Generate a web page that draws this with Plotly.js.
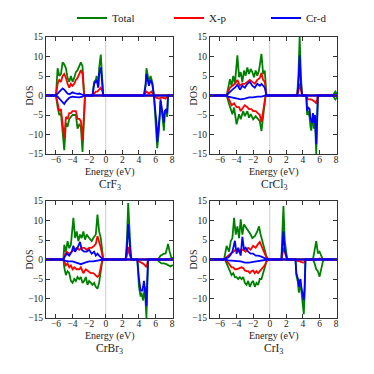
<!DOCTYPE html>
<html lang="en">
<head>
    <meta charset="UTF-8">
    <title>CrX3 DOS</title>
    <script src="https://cdn.plot.ly/plotly-3.0.1.min.js"></script>
    <style>
        body { margin: 0; padding: 0; background: #fff; }
        #chart { width: 374px; height: 374px; }
    </style>
</head>
<body>
    <div id="chart"></div>
    <script>
        // [energy (eV), DOS] pairs, spin up > 0, spin down < 0
        const materials = ['CrF<sub>3</sub>', 'CrCl<sub>3</sub>', 'CrBr<sub>3</sub>', 'CrI<sub>3</sub>'];
        const seriesNames = ['Total', 'X-p', 'Cr-d'];
        const seriesColors = ['#008000', '#ff0000', '#0000ff'];

        // CrF3
        const crf3TotalUp = [[-7.5,0],[-6.0,0],[-5.8,7],[-5.6,5],[-5.4,5.5],[-5.2,8.5],[-5.0,8],[-4.8,7],[-4.6,4.5],[-4.4,3.5],[-4.2,5],[-4.0,3.5],[-3.8,4.5],[-3.6,6],[-3.4,6.5],[-3.2,7.5],[-3.0,8.5],[-2.8,7.5],[-2.6,0],[-1.6,0],[-1.4,3.5],[-1.2,4],[-1.1,5],[-0.9,2.5],[-0.8,7],[-0.6,10.5],[-0.4,4],[-0.3,0],[4.6,0],[4.8,3],[4.9,7],[5.1,4.5],[5.2,3.5],[5.4,5],[5.6,3.5],[5.8,0],[8.5,0]];
        const crf3TotalDn = [[-7.5,0],[-6.0,0],[-5.8,-3],[-5.6,-5],[-5.4,-4.5],[-5.2,-9],[-5.0,-14],[-4.8,-7],[-4.6,-8],[-4.4,-6],[-4.2,-5.5],[-4.0,-5],[-3.8,-5],[-3.6,-5],[-3.4,-8.5],[-3.2,-7.5],[-3.0,-8],[-2.8,-14.5],[-2.6,-5],[-2.5,0],[5.8,0],[5.9,-3],[6.1,-8],[6.2,-13.5],[6.4,-9],[6.5,-6],[6.6,-1.5],[6.8,-5],[7.0,-9],[7.1,-5],[7.3,-4],[7.4,-5.5],[7.5,0],[8.5,0]];
        const crf3XpUp = [[-7.5,0],[-6.0,0],[-5.8,3],[-5.6,4],[-5.4,3.5],[-5.2,5],[-5.0,5.5],[-4.8,4.5],[-4.6,3],[-4.4,2],[-4.2,3],[-4.0,2.5],[-3.8,3],[-3.6,4],[-3.4,4.5],[-3.2,5.5],[-3.0,6.5],[-2.8,5.5],[-2.6,0],[-1.6,0],[-1.4,0.5],[-1.2,1],[-1.0,1],[-0.8,1.5],[-0.6,2],[-0.4,1],[-0.3,0],[4.6,0],[4.9,1],[5.2,0.5],[5.5,1],[5.8,0],[8.5,0]];
        const crf3XpDn = [[-7.5,0],[-6.0,0],[-5.8,-2],[-5.6,-4],[-5.4,-3.5],[-5.2,-7.5],[-5.0,-11],[-4.8,-5.5],[-4.6,-6],[-4.4,-4.5],[-4.2,-4.5],[-4.0,-4],[-3.8,-4],[-3.6,-4],[-3.4,-6],[-3.2,-6],[-3.0,-6.5],[-2.8,-11.5],[-2.6,-4],[-2.5,0],[5.8,0],[6.0,-0.5],[6.4,-0.8],[6.8,-0.5],[7.2,-0.8],[7.5,0],[8.5,0]];
        const crf3CrdUp = [[-7.5,0],[-6.0,0],[-5.8,0.5],[-5.6,1],[-5.4,1.5],[-5.2,1.8],[-5.0,1.5],[-4.8,1],[-4.6,0.5],[-4.4,0.3],[-4.2,0.5],[-4.0,0.8],[-3.8,0.6],[-3.6,0.5],[-3.4,0.4],[-3.2,0.5],[-3.0,0.4],[-2.8,0.2],[-2.6,0],[-1.6,0],[-1.4,3],[-1.2,3.5],[-1.1,4],[-0.9,2],[-0.8,5.5],[-0.6,7.2],[-0.4,3],[-0.3,0],[4.6,0],[4.8,2.5],[4.9,5.5],[5.1,3.5],[5.2,2.5],[5.4,4],[5.6,3],[5.8,0],[8.5,0]];
        const crf3CrdDn = [[-7.5,0],[-6.0,0],[-5.8,-0.3],[-5.6,-0.8],[-5.4,-1.2],[-5.2,-1.8],[-5.0,-2.2],[-4.8,-1.5],[-4.6,-1],[-4.4,-0.6],[-4.2,-0.4],[-4.0,-0.3],[-3.6,-0.4],[-3.2,-0.5],[-2.8,-0.3],[-2.6,0],[5.8,0],[5.9,-2],[6.1,-7],[6.2,-12],[6.4,-8],[6.5,-5],[6.6,-1],[6.8,-4.5],[7.0,-7],[7.1,-4],[7.3,-3.5],[7.4,-4.5],[7.5,0],[8.5,0]];

        // CrCl3
        const crcl3TotalUp = [[-7.5,0],[-5.2,0],[-5.0,2],[-4.8,4.2],[-4.6,2.5],[-4.4,5],[-4.2,3],[-3.9,10.3],[-3.7,4.7],[-3.5,6],[-3.3,3.4],[-3.1,6.4],[-2.9,5.1],[-2.7,7.2],[-2.5,5.5],[-2.3,6.8],[-2.1,6],[-1.9,4.7],[-1.7,6.4],[-1.5,5.1],[-1.3,6.4],[-1.0,10.7],[-0.8,5.5],[-0.6,6.4],[-0.4,0],[3.3,0],[3.45,5],[3.6,15],[3.75,5],[3.9,0],[7.6,0],[7.8,0.5],[7.9,1],[8.1,0.5],[8.5,0]];
        const crcl3TotalDn = [[-7.5,0],[-5.2,0],[-4.9,-2.2],[-4.7,-3.5],[-4.5,-4.8],[-4.3,-3.1],[-4.0,-7.4],[-3.7,-4.8],[-3.5,-6.1],[-3.2,-4],[-3.0,-5.3],[-2.7,-4],[-2.5,-5.7],[-2.3,-4.8],[-2.0,-6.1],[-1.7,-5.3],[-1.4,-6.1],[-1.2,-6.6],[-1.0,-9.1],[-0.8,-5.3],[-0.6,-3.1],[-0.5,0],[4.4,0],[4.5,-5],[4.6,-4],[4.8,-5.5],[4.9,-8],[5.0,-9],[5.1,-6],[5.2,-5.5],[5.3,-8.5],[5.45,-6.5],[5.6,-15],[5.8,0],[7.6,0],[7.9,-1],[8.1,-0.5],[8.5,0]];
        const crcl3XpUp = [[-7.5,0],[-5.2,0],[-5.0,1],[-4.8,2],[-4.5,2.5],[-4.2,3],[-3.9,4],[-3.6,2.5],[-3.3,3],[-3.0,3],[-2.7,3.5],[-2.4,4],[-2.1,3.5],[-1.8,3],[-1.5,4],[-1.2,4.5],[-1.0,5.8],[-0.8,4],[-0.6,3.5],[-0.4,0],[3.3,0],[3.45,1],[3.6,3],[3.75,1],[3.9,0],[8.5,0]];
        const crcl3XpDn = [[-7.5,0],[-5.2,0],[-5.0,-0.5],[-4.8,-1.5],[-4.6,-2.5],[-4.3,-2],[-4.0,-3],[-3.7,-3],[-3.5,-4],[-3.2,-3],[-3.0,-2.5],[-2.7,-3],[-2.5,-3.5],[-2.2,-3.5],[-2.0,-4],[-1.7,-4],[-1.4,-4.5],[-1.2,-5],[-1.0,-6.8],[-0.8,-4],[-0.6,-2],[-0.5,0],[4.4,0],[4.6,-1],[5.0,-1],[5.4,-1.5],[5.6,-2],[5.8,0],[8.5,0]];
        const crcl3CrdUp = [[-7.5,0],[-5.2,0],[-5.0,0.5],[-4.8,1],[-4.5,1.5],[-4.2,2],[-3.9,2.8],[-3.6,1.5],[-3.3,2.5],[-3.0,2],[-2.7,3],[-2.4,3.5],[-2.1,2.5],[-1.8,2],[-1.5,3],[-1.2,2.5],[-1.0,3],[-0.8,2.5],[-0.6,2],[-0.4,0],[3.3,0],[3.45,3],[3.6,10.3],[3.75,3],[3.9,0],[8.5,0]];
        const crcl3CrdDn = [[-7.5,0],[-5.2,0],[-5.0,-0.3],[-4.5,-0.5],[-4.0,-0.8],[-3.5,-1],[-3.0,-0.8],[-2.5,-0.5],[-2.0,-0.5],[-1.5,-0.3],[-1.0,-0.3],[-0.5,0],[4.4,0],[4.5,-4],[4.6,-3],[4.8,-3.5],[4.9,-6],[5.1,-7],[5.2,-4.5],[5.3,-7],[5.45,-5],[5.6,-12.5],[5.8,0],[8.5,0]];

        // CrBr3
        const crbr3TotalUp = [[-7.5,0],[-5.1,0],[-5.0,3.8],[-4.8,2],[-4.6,4.7],[-4.4,2.9],[-4.2,3.8],[-3.9,10.7],[-3.7,5.5],[-3.5,7.2],[-3.3,4.7],[-3.1,6.4],[-2.9,5.5],[-2.7,7.2],[-2.5,5.1],[-2.3,6.4],[-2.0,5.5],[-1.7,4.7],[-1.5,5.5],[-1.2,6.4],[-1.0,11.5],[-0.8,7.2],[-0.6,5.5],[-0.3,0],[2.4,0],[2.55,5],[2.7,14.5],[2.85,6],[3.0,2],[3.1,0],[6.3,0],[6.4,0.3],[6.6,1],[7.0,1.5],[7.2,1.5],[7.4,3],[7.5,4],[7.7,2],[7.9,0.5],[8.5,0]];
        const crbr3TotalDn = [[-7.5,0],[-5.1,0],[-5.0,-2],[-4.8,-4],[-4.6,-3],[-4.4,-3.5],[-4.2,-5.5],[-4.0,-6],[-3.8,-5],[-3.6,-5.5],[-3.4,-4.5],[-3.2,-5],[-3.0,-4.5],[-2.8,-6],[-2.6,-5.5],[-2.4,-4.5],[-2.2,-6.5],[-2.0,-5.5],[-1.8,-6],[-1.6,-6.5],[-1.4,-6],[-1.2,-7],[-1.0,-7.5],[-0.8,-6],[-0.6,-3],[-0.4,0],[3.8,0],[3.9,-6],[4.0,-7],[4.2,-9.5],[4.3,-8.5],[4.5,-10.5],[4.7,-7],[4.9,-15],[5.0,-6],[5.1,0],[6.3,0],[6.4,-0.5],[6.7,-1],[7.0,-1],[7.3,-1.2],[7.6,-1.5],[7.8,-1.8],[8.0,-1.5],[8.5,-1.5]];
        const crbr3XpUp = [[-7.5,0],[-5.1,0],[-5.0,1],[-4.7,2],[-4.4,1.5],[-4.1,2],[-3.8,2.5],[-3.5,3],[-3.2,2.5],[-2.9,3],[-2.6,3],[-2.3,2.5],[-2.0,3],[-1.7,3],[-1.4,3.5],[-1.2,4],[-1.0,6],[-0.8,4.5],[-0.6,3],[-0.3,0],[2.4,0],[2.55,1],[2.7,3.2],[2.85,1.5],[3.1,0],[8.5,0]];
        const crbr3XpDn = [[-7.5,0],[-5.1,0],[-5.0,-0.5],[-4.8,-1.5],[-4.6,-1],[-4.4,-2],[-4.2,-1.5],[-4.0,-2.5],[-3.8,-2],[-3.5,-2.5],[-3.2,-2.5],[-3.0,-2],[-2.7,-3.5],[-2.4,-2.5],[-2.1,-3],[-1.8,-3.5],[-1.5,-3.5],[-1.2,-4],[-1.0,-4.5],[-0.8,-4],[-0.6,-2],[-0.4,0],[3.8,0],[4.0,-0.5],[4.3,-0.8],[4.6,-1.2],[4.9,-2],[5.1,0],[8.5,0]];
        const crbr3CrdUp = [[-7.5,0],[-5.1,0],[-5.0,0.5],[-4.7,1.5],[-4.4,1],[-4.1,2],[-3.9,3.5],[-3.7,2],[-3.4,3],[-3.1,4.5],[-2.9,2.5],[-2.6,2],[-2.3,2],[-2.0,2.5],[-1.7,1.5],[-1.4,2],[-1.2,1],[-1.0,1.5],[-0.8,1],[-0.5,0.3],[-0.3,0],[2.4,0],[2.55,3],[2.7,9],[2.85,3.5],[3.0,1],[3.1,0],[8.5,0]];
        const crbr3CrdDn = [[-7.5,0],[-5.1,0],[-5.0,-0.3],[-4.5,-0.5],[-4.0,-0.5],[-3.5,-0.8],[-3.0,-1.2],[-2.5,-0.8],[-2.0,-0.5],[-1.5,-0.5],[-1.0,-0.3],[-0.5,-0.1],[-0.3,0],[3.8,0],[3.9,-4],[4.0,-5],[4.2,-8],[4.4,-8],[4.5,-7],[4.6,-5.5],[4.8,-9],[4.9,-12],[5.0,-5],[5.1,0],[8.5,0]];

        // CrI3
        const cri3TotalUp = [[-7.5,0],[-5.5,0],[-5.2,3.5],[-4.9,2],[-4.7,4.7],[-4.5,5.5],[-4.3,10.7],[-4.1,6.4],[-3.9,8.5],[-3.7,5.5],[-3.5,10.3],[-3.3,6.4],[-3.1,9],[-2.8,8.1],[-2.6,7.2],[-2.3,6.4],[-2.1,5.5],[-1.8,6],[-1.5,7.2],[-1.3,8.5],[-1.1,6.4],[-0.9,4.7],[-0.7,2.9],[-0.4,0.8],[-0.2,0],[1.4,0],[1.5,6],[1.65,13.7],[1.8,5],[1.95,3],[2.1,0],[5.2,0],[5.4,2.9],[5.6,4.7],[5.8,1.6],[6.0,2],[6.4,0],[8.5,0]];
        const cri3TotalDn = [[-7.5,0],[-5.4,0],[-5.2,-1],[-5.0,-2],[-4.8,-3],[-4.6,-4],[-4.4,-3.5],[-4.2,-4.5],[-4.0,-4.5],[-3.8,-5],[-3.6,-4.5],[-3.4,-5],[-3.2,-4.5],[-3.0,-6],[-2.8,-6.5],[-2.6,-5.5],[-2.4,-7],[-2.2,-6],[-2.0,-5.5],[-1.8,-7],[-1.6,-6],[-1.4,-6.5],[-1.2,-5],[-1.0,-5],[-0.8,-3.5],[-0.6,-2],[-0.4,-0.5],[-0.2,0],[3.1,0],[3.2,-4],[3.4,-6],[3.5,-8.5],[3.6,-7],[3.7,-6.5],[3.8,-8],[3.9,-10],[4.0,-12],[4.1,-14],[4.2,-9],[4.3,0],[5.2,0],[5.4,-1],[5.6,-2.5],[5.8,-3],[6.0,-4.4],[6.2,-2],[6.4,-0.5],[6.5,0],[8.5,0]];
        const cri3XpUp = [[-7.5,0],[-5.5,0],[-5.3,0.5],[-5.0,1],[-4.7,1.5],[-4.4,2],[-4.1,2.5],[-3.8,2],[-3.5,2.5],[-3.2,2.5],[-2.9,2],[-2.6,3],[-2.3,2.5],[-2.0,3.5],[-1.7,3],[-1.4,4],[-1.2,4.5],[-1.0,3.5],[-0.8,2.5],[-0.5,1],[-0.2,0],[1.4,0],[1.5,1],[1.65,3],[1.8,2],[1.95,1],[2.1,0],[5.6,0],[6.0,0.3],[6.4,0],[8.5,0]];
        const cri3XpDn = [[-7.5,0],[-5.4,0],[-5.2,-0.3],[-5.0,-0.8],[-4.8,-1.5],[-4.6,-2],[-4.4,-2],[-4.2,-2.5],[-4.0,-2.5],[-3.8,-2.3],[-3.6,-2],[-3.4,-2],[-3.2,-2.2],[-3.0,-2.8],[-2.8,-3],[-2.6,-3],[-2.4,-3.5],[-2.2,-3],[-2.0,-2.8],[-1.8,-3.5],[-1.6,-3],[-1.4,-3.5],[-1.2,-3],[-1.0,-2.5],[-0.8,-2],[-0.6,-1.5],[-0.4,-0.5],[-0.2,0],[3.1,0],[3.2,-0.3],[3.6,-0.5],[4.0,-0.8],[4.2,-0.7],[4.3,0],[8.5,0]];
        const cri3CrdUp = [[-7.5,0],[-5.5,0],[-5.3,0.3],[-5.0,0.5],[-4.8,1],[-4.5,2],[-4.2,4.8],[-4.0,1.5],[-3.8,3],[-3.5,1],[-3.3,5.8],[-3.1,2.5],[-2.9,3],[-2.6,2],[-2.3,1.5],[-2.0,1.5],[-1.7,1],[-1.4,1],[-1.1,0.8],[-0.8,0.5],[-0.5,0.3],[-0.2,0],[1.4,0],[1.5,3],[1.65,7.2],[1.8,2.5],[1.95,1.5],[2.1,0],[8.5,0]];
        const cri3CrdDn = [[-7.5,0],[-5.4,0],[-5.0,-0.2],[-4.5,-0.3],[-4.0,-0.3],[-3.5,-0.5],[-3.0,-0.8],[-2.5,-0.8],[-2.0,-0.6],[-1.5,-0.4],[-1.0,-0.3],[-0.5,-0.1],[-0.2,0],[3.1,0],[3.2,-3.5],[3.4,-5],[3.5,-7],[3.6,-5.5],[3.7,-5],[3.8,-7],[3.9,-8],[4.0,-9],[4.1,-10.5],[4.2,-7],[4.3,0],[8.5,0]];

        // per panel: [total, X-p, Cr-d] x [up, down]
        const panels = [
            [[crf3TotalUp, crf3TotalDn], [crf3XpUp, crf3XpDn], [crf3CrdUp, crf3CrdDn]],
            [[crcl3TotalUp, crcl3TotalDn], [crcl3XpUp, crcl3XpDn], [crcl3CrdUp, crcl3CrdDn]],
            [[crbr3TotalUp, crbr3TotalDn], [crbr3XpUp, crbr3XpDn], [crbr3CrdUp, crbr3CrdDn]],
            [[cri3TotalUp, cri3TotalDn], [cri3XpUp, cri3XpDn], [cri3CrdUp, cri3CrdDn]]
        ];

        const W = 374, H = 374;
        const FONT = "'Liberation Serif', 'Times New Roman', serif";
        const INK = '#222';
        // plot boxes in pixels: [left, right, top, bottom]
        const boxes = [[46, 173, 37, 154], [210, 337, 37, 154], [46, 173, 201, 318], [210, 337, 201, 318]];

        const traces = [];
        panels.forEach((panel, p) => {
            const ax = p === 0 ? '' : String(p + 1);
            panel.forEach((spins, s) => {
                spins.forEach((pts, k) => {
                    traces.push({
                        x: pts.map(d => d[0]),
                        y: pts.map(d => d[1]),
                        xaxis: 'x' + ax,
                        yaxis: 'y' + ax,
                        type: 'scatter',
                        mode: 'lines',
                        name: seriesNames[s],
                        legendgroup: seriesNames[s],
                        showlegend: p === 0 && k === 0,
                        line: { color: seriesColors[s], width: 1.8 },
                        hoverinfo: 'skip'
                    });
                });
            });
        });

        const layout = {
            width: W,
            height: H,
            margin: { l: 0, r: 0, t: 0, b: 0 },
            paper_bgcolor: '#fff',
            plot_bgcolor: '#fff',
            font: { family: FONT, color: INK, size: 10 },
            showlegend: true,
            legend: {
                orientation: 'h',
                x: 72 / W,
                y: 1 - 18 / H,
                xanchor: 'left',
                yanchor: 'middle',
                font: { family: FONT, size: 11, color: INK },
                entrywidth: 52,
                bgcolor: 'rgba(0,0,0,0)'
            },
            shapes: [],
            annotations: []
        };

        function label(text, x, y, size, angle) {
            return {
                text: text, xref: 'paper', yref: 'paper',
                x: x / W, y: 1 - y / H,
                xanchor: 'center', yanchor: 'middle',
                showarrow: false, textangle: angle || 0,
                font: { family: FONT, size: size, color: INK }
            };
        }

        boxes.forEach((b, p) => {
            const ax = p === 0 ? '' : String(p + 1);
            const common = {
                ticks: 'inside', ticklen: 4, tickcolor: '#333',
                showline: true, linecolor: '#333', linewidth: 1, mirror: 'ticks',
                showgrid: false, zeroline: false,
                tickfont: { family: FONT, size: 9.5, color: INK }
            };
            layout['xaxis' + ax] = Object.assign({
                domain: [b[0] / W, b[1] / W],
                anchor: 'y' + ax,
                range: [-7.2, 8.1],
                tick0: 0, dtick: 2,
                ticklabelstandoff: -3
            }, common);
            layout['yaxis' + ax] = Object.assign({
                domain: [1 - b[3] / H, 1 - b[2] / H],
                anchor: 'x' + ax,
                range: [-15, 15],
                tick0: 0, dtick: 5
            }, common);
            // Fermi level marker
            layout.shapes.push({
                type: 'line', xref: 'x' + ax, yref: 'y' + ax + ' domain',
                x0: 0, x1: 0, y0: 0, y1: 1,
                line: { color: '#cccccc', width: 1 },
                layer: 'below'
            });
            const cx = (b[0] + b[1]) / 2;
            layout.annotations.push(label('Energy (eV)', cx, b[3] + 18, 10));
            layout.annotations.push(label(materials[p], cx, b[3] + 31, 11.5));
            layout.annotations.push(label('DOS', b[0] - 17, (b[2] + b[3]) / 2, 10, -90));
        });

        Plotly.newPlot('chart', traces, layout, { staticPlot: true, displayModeBar: false });
    </script>
</body>
</html>
